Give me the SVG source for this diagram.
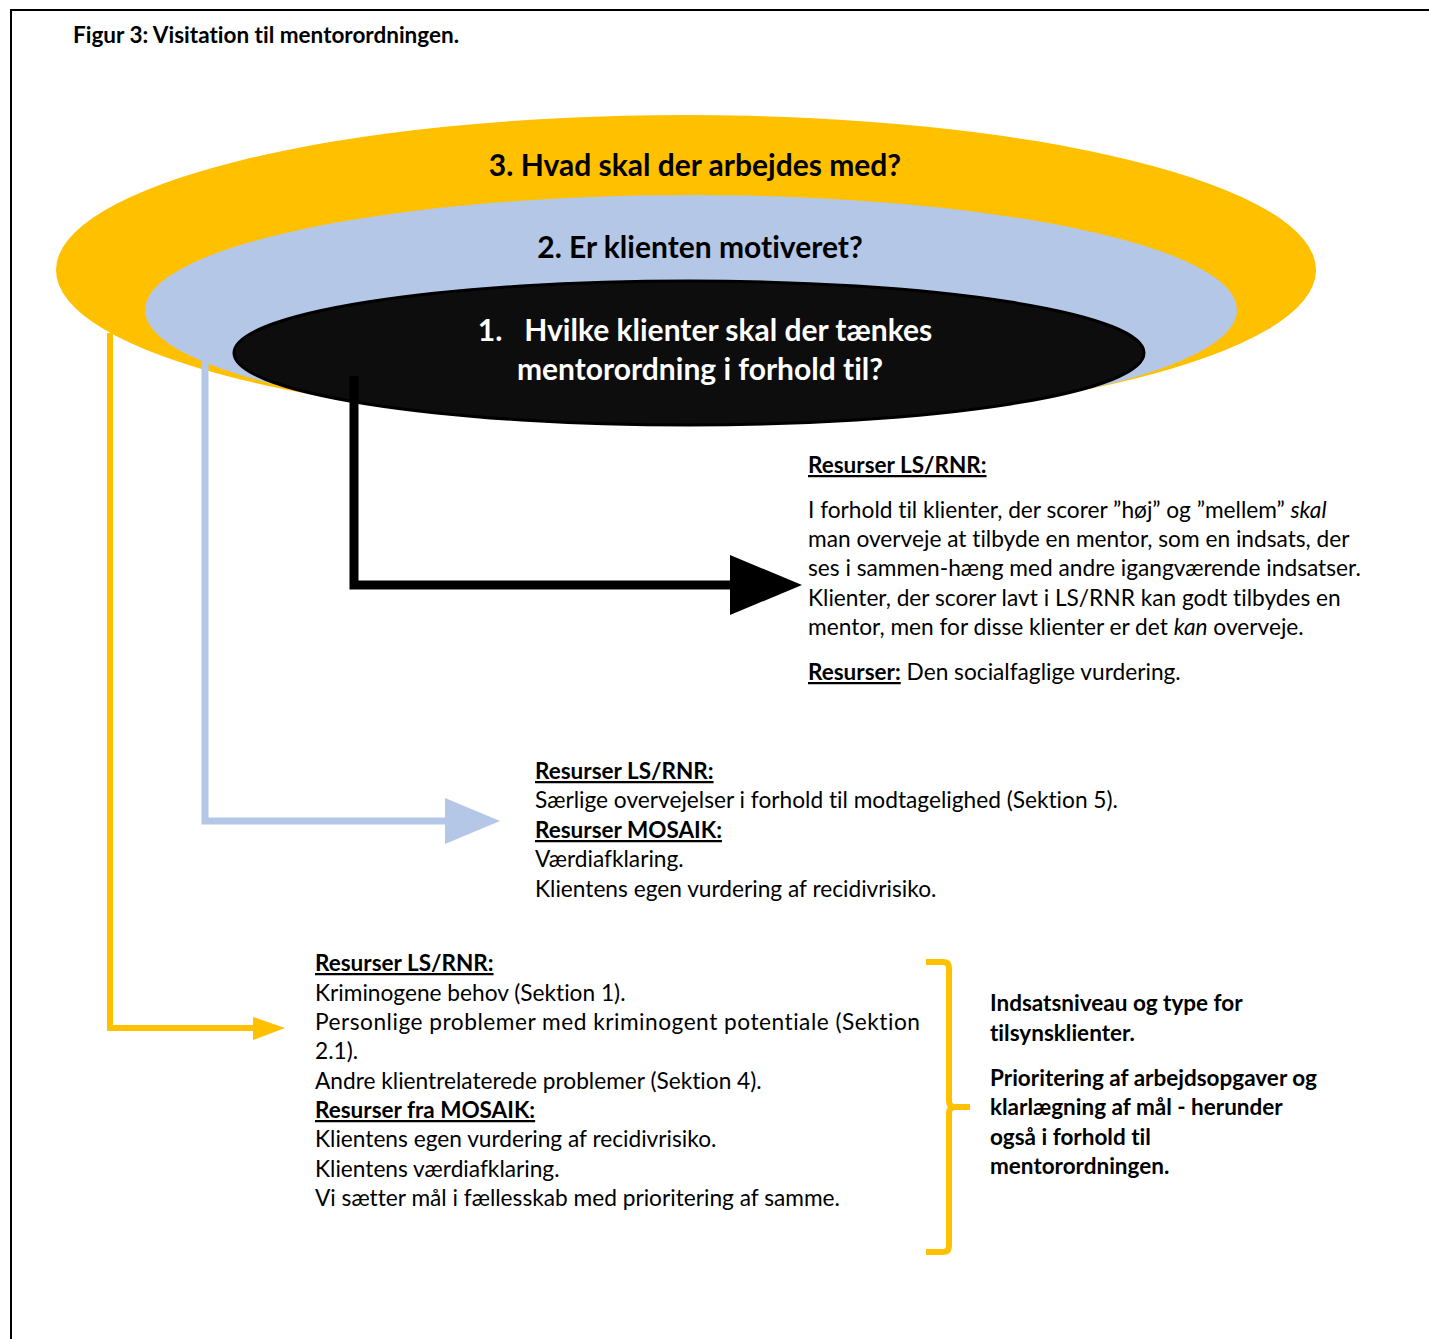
<svg xmlns="http://www.w3.org/2000/svg" width="1429" height="1339" viewBox="0 0 1429 1339">
<style>
text{font-family:Lato,"Open Sans","Liberation Sans",sans-serif;fill:#000;font-variant-ligatures:none}
.b{font-weight:bold;font-size:22.5px}
.body{font-size:22.7px}
.u{text-decoration:underline}
.head{font-size:30px;font-weight:bold}
</style>
<rect width="1429" height="1339" fill="#fff"/>
<path d="M11 1339 V10 H1429" fill="none" stroke="#000" stroke-width="2"/>
<text x="73" y="43" class="b">Figur 3: Visitation til mentorordningen.</text>

<g id="ring3"><ellipse cx="686" cy="270" rx="630" ry="155" fill="#ffc000"/>
<text x="695" y="176" text-anchor="middle" class="head">3. Hvad skal der arbejdes med?</text></g>
<g id="ring2"><ellipse cx="691" cy="310" rx="546" ry="115" fill="#b4c7e7"/>
<text x="700" y="258" text-anchor="middle" class="head">2. Er klienten motiveret?</text></g>
<g id="ring1"><ellipse cx="689" cy="353" rx="455" ry="72" fill="#0d0d0d" stroke="#000" stroke-width="3"/>
<text x="705" y="341" text-anchor="middle" class="head" style="fill:#fff" xml:space="preserve">1.   Hvilke klienter skal der tænkes</text>
<text x="700" y="380" text-anchor="middle" class="head" style="fill:#fff">mentorordning i forhold til?</text></g>

<g id="connectors">
<path d="M354 376 V585 H732" fill="none" stroke="#000" stroke-width="9"/>
<polygon points="730,555 802,585 730,615" fill="#000"/>
<path d="M205 362 V821 H447" fill="none" stroke="#b4c7e7" stroke-width="7"/>
<polygon points="445,798 500,821 445,844" fill="#b4c7e7"/>
<path d="M110 333 V1028 H255" fill="none" stroke="#ffc000" stroke-width="6"/>
<polygon points="253,1017 285,1028 253,1040" fill="#ffc000"/>
<path d="M926 962 H943 Q949 962 949 968 V1101 Q949 1107 955 1107 H970 M955 1107 Q949 1107 949 1113 V1246 Q949 1252 943 1252 H926" fill="none" stroke="#ffc000" stroke-width="6"/>
</g>

<g id="block1" class="body">
<text x="808" y="473" class="b u">Resurser LS/RNR:</text>
<text x="808" y="518">I forhold til klienter, der scorer ”høj” og ”mellem” <tspan font-style="italic">skal</tspan></text>
<text x="808" y="547">man overveje at tilbyde en mentor, som en indsats, der</text>
<text x="808" y="576">ses i sammen-hæng med andre igangværende indsatser.</text>
<text x="808" y="606">Klienter, der scorer lavt i LS/RNR kan godt tilbydes en</text>
<text x="808" y="635">mentor, men for disse klienter er det <tspan font-style="italic">kan</tspan> overveje.</text>
<text x="808" y="680"><tspan class="b u">Resurser:</tspan> Den socialfaglige vurdering.</text>
</g>

<g id="block2" class="body">
<text x="535" y="779" class="b u">Resurser LS/RNR:</text>
<text x="535" y="808">Særlige overvejelser i forhold til modtagelighed (Sektion 5).</text>
<text x="535" y="838" class="b u">Resurser MOSAIK:</text>
<text x="535" y="867">Værdiafklaring.</text>
<text x="535" y="897">Klientens egen vurdering af recidivrisiko.</text>
</g>

<g id="block3" class="body">
<text x="315" y="971" class="b u">Resurser LS/RNR:</text>
<text x="315" y="1001">Kriminogene behov (Sektion 1).</text>
<text x="315" y="1030" textLength="605" lengthAdjust="spacing">Personlige problemer med kriminogent potentiale (Sektion</text>
<text x="315" y="1059">2.1).</text>
<text x="315" y="1089">Andre klientrelaterede problemer (Sektion 4).</text>
<text x="315" y="1118" class="b u">Resurser fra MOSAIK:</text>
<text x="315" y="1147">Klientens egen vurdering af recidivrisiko.</text>
<text x="315" y="1177">Klientens værdiafklaring.</text>
<text x="315" y="1206">Vi sætter mål i fællesskab med prioritering af samme.</text>
</g>

<g id="block4">
<text x="990" y="1011" class="b">Indsatsniveau og type for</text>
<text x="990" y="1041" class="b">tilsynsklienter.</text>
<text x="990" y="1086" class="b">Prioritering af arbejdsopgaver og</text>
<text x="990" y="1115" class="b">klarlægning af mål - herunder</text>
<text x="990" y="1145" class="b">også i forhold til</text>
<text x="990" y="1174" class="b">mentorordningen.</text>
</g>
</svg>
